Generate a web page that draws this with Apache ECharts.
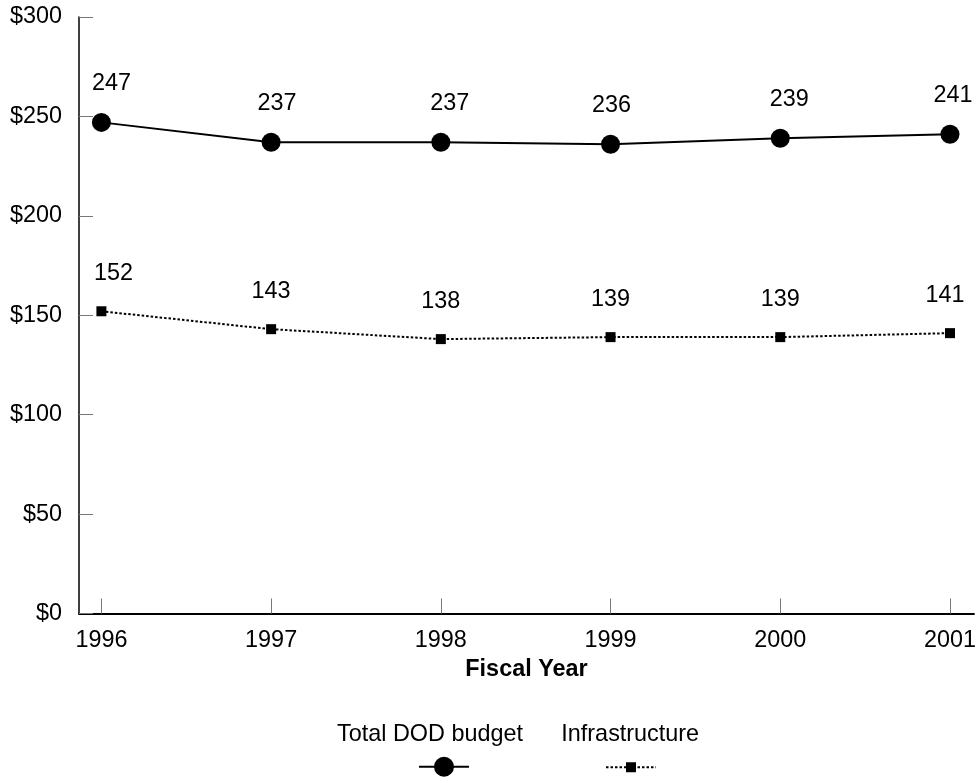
<!DOCTYPE html>
<html>
<head>
<meta charset="utf-8">
<script src="https://cdn.jsdelivr.net/npm/echarts@6/dist/echarts.min.js"></script>
<style>
  html, body { margin: 0; padding: 0; background: #fff; }
  #chart { width: 979px; height: 778px; }
</style>
</head>
<body>
<div id="chart"></div>
<script>
// Fiscal years on the horizontal axis
const years = [1996, 1997, 1998, 1999, 2000, 2001];
// Spending, billions of dollars
const totalBudget = [247, 237, 237, 236, 239, 241];
const infrastructure = [152, 143, 138, 139, 139, 141];
// Vertical axis ticks
const yTicks = [0, 50, 100, 150, 200, 250, 300];

const FONT = '"Liberation Sans", Arial, Helvetica, sans-serif';
const FS = 23.4;

// Small horizontal nudges for the value labels (px)
const totalLabelShift = [10, 6, 9, 1, 9, 3];
const infraLabelShift = [12, 0, 0, 0, 0, -5];

function points(values, shifts) {
  return values.map((v, i) => ({
    value: [years[i], v],
    label: { offset: [shifts[i], 0] }
  }));
}

const chart = echarts.init(document.getElementById('chart'), null, { renderer: 'canvas' });

chart.setOption({
  animation: false,
  backgroundColor: '#ffffff',
  textStyle: { fontFamily: FONT, color: '#000' },
  grid: { left: 79, right: 1, top: 17, bottom: 164.5, containLabel: false },
  xAxis: {
    type: 'value',
    min: 1995.868,
    max: 2001.141,
    name: 'Fiscal Year',
    nameLocation: 'middle',
    nameGap: 45,
    nameTextStyle: { fontFamily: FONT, fontSize: FS, fontWeight: 'bold', color: '#000' },
    axisLine: { show: true, lineStyle: { color: '#000', width: 2 } },
    axisTick: {
      show: true, inside: true, length: 15,
      customValues: years,
      lineStyle: { color: '#777', width: 1 }
    },
    axisLabel: {
      show: true, margin: 16,
      customValues: years,
      fontFamily: FONT, fontSize: FS, color: '#000',
      formatter: v => String(Math.round(v))
    },
    splitLine: { show: false }
  },
  yAxis: {
    type: 'value',
    min: yTicks[0],
    max: yTicks[yTicks.length - 1],
    interval: 50,
    axisLine: { show: true, lineStyle: { color: '#000', width: 1.5 } },
    axisTick: { show: true, inside: true, length: 14, lineStyle: { color: '#777', width: 1 } },
    axisLabel: {
      margin: 17,
      fontFamily: FONT, fontSize: FS, color: '#000',
      formatter: v => '$' + v
    },
    splitLine: { show: false }
  },
  legend: [
    {
      // names only
      data: ['Total DOD budget', 'Infrastructure'],
      left: 332, top: 723.5, padding: 0,
      icon: 'rect', itemWidth: 0, itemHeight: 0, itemGap: 33.4,
      selectedMode: false,
      textStyle: { fontFamily: FONT, fontSize: FS, color: '#000' }
    },
    {
      data: ['Total DOD budget'],
      left: 418, top: 754.2, padding: 0,
      itemWidth: 50, itemHeight: 25,
      selectedMode: false,
      formatter: () => ''
    },
    {
      data: ['Infrastructure'],
      left: 605, top: 761, padding: 0,
      itemWidth: 50, itemHeight: 12.5,
      selectedMode: false,
      formatter: () => ''
    }
  ],
  series: [
    {
      name: 'Total DOD budget',
      type: 'line',
      data: points(totalBudget, totalLabelShift),
      symbol: 'circle',
      symbolSize: 19,
      itemStyle: { color: '#000' },
      lineStyle: { color: '#000', width: 2, type: 'solid' },
      label: {
        show: true, position: 'top', distance: 17.5,
        fontFamily: FONT, fontSize: FS, color: '#000',
        formatter: p => String(p.value[1])
      },
      z: 3
    },
    {
      name: 'Infrastructure',
      type: 'line',
      data: points(infrastructure, infraLabelShift),
      symbol: 'rect',
      symbolSize: 10,
      itemStyle: { color: '#000' },
      lineStyle: { color: '#000', width: 2, type: [2.5, 2] },
      label: {
        show: true, position: 'top', distance: 21.5,
        fontFamily: FONT, fontSize: FS, color: '#000',
        formatter: p => String(p.value[1])
      },
      z: 3
    }
  ]
});
</script>
</body>
</html>
